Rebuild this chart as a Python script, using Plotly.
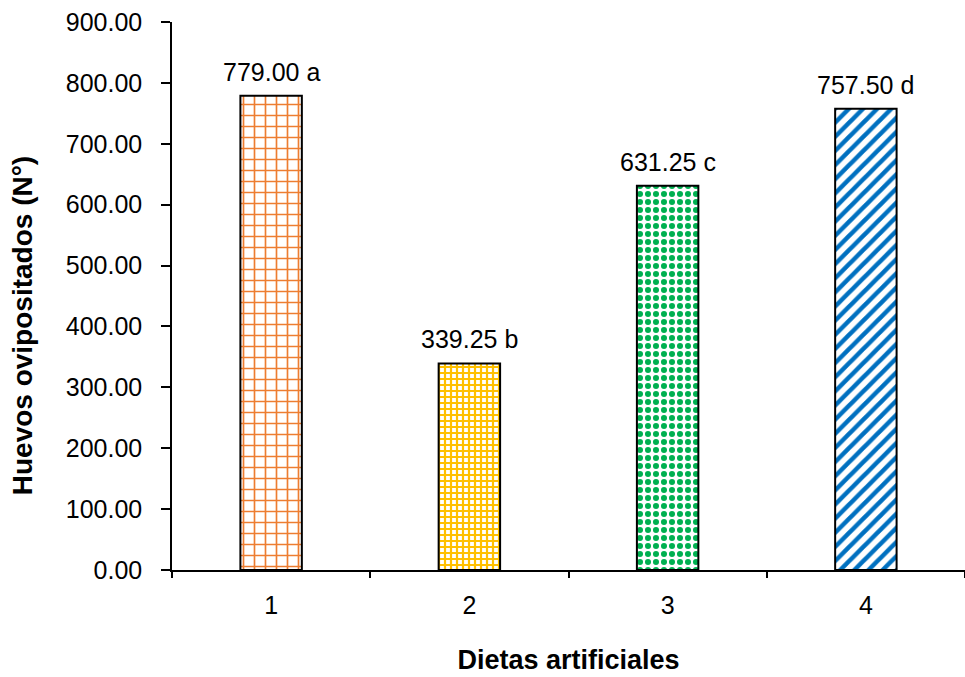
import plotly.graph_objects as go

categories = ["1", "2", "3", "4"]
values = [779.00, 339.25, 631.25, 757.50]
letters = ["a", "b", "c", "d"]
colors = ["#ED7D31", "#FFC000", "#00B050", "#0070C0"]
shapes = ["+", "+", ".", "/"]
sizes = [11, 6, 8, 10]
solid = [0.28, 0.6, 0.45, 0.45]

labels = [f"{v:.2f} {l}" for v, l in zip(values, letters)]
FONT = "Liberation Sans, Arial"

fig = go.Figure()
fig.add_trace(go.Bar(
    x=categories, y=values,
    width=0.31,
    marker=dict(
        color=colors,
        line=dict(color="black", width=2),
        pattern=dict(shape=shapes, size=sizes, solidity=solid,
                     fillmode="replace", bgcolor="white", fgcolor=colors),
    ),
))

for i, (v, t) in enumerate(zip(values, labels)):
    fig.add_annotation(x=i, y=v, text=t, showarrow=False, yanchor="bottom",
                       yshift=8, font=dict(family=FONT, size=25, color="black"))

fig.add_annotation(xref="paper", yref="paper", x=-0.189, y=0.445,
                   text="<b>Huevos ovipositados (N°)</b>", textangle=-90,
                   showarrow=False, xanchor="center", yanchor="middle",
                   font=dict(family=FONT, size=28, color="black"))

fig.update_layout(
    width=965, height=677,
    margin=dict(l=172, r=0, t=22, b=107),
    plot_bgcolor="white", paper_bgcolor="white",
    showlegend=False,
    font=dict(family=FONT, size=25, color="black"),
    xaxis=dict(
        type="category",
        showline=True, linecolor="black", linewidth=1.5,
        ticks="outside", tickson="boundaries", ticklen=6, tickcolor="black",
        tickwidth=1.5,
        tickfont=dict(size=25), ticklabelstandoff=12,
        title=dict(text="<b>Dietas artificiales</b>", font=dict(size=27), standoff=32),
    ),
    yaxis=dict(
        range=[0, 900], dtick=100, tickformat=".2f",
        showline=True, linecolor="black", linewidth=1.5,
        ticks="outside", ticklen=9, tickcolor="black", tickwidth=1.5,
        showgrid=False, zeroline=False,
        tickfont=dict(size=25), ticklabelstandoff=14,
    ),
)

fig.write_html("out.html")
